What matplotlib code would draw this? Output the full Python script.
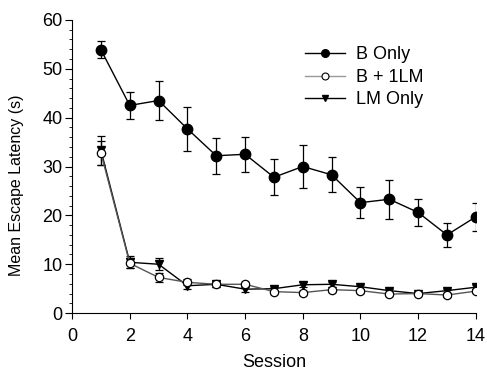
import numpy as np
import matplotlib
matplotlib.use("Agg")
import matplotlib.pyplot as plt
from matplotlib.ticker import MultipleLocator
from matplotlib.lines import Line2D

plt.rcParams['font.family'] = ['Liberation Sans', 'DejaVu Sans']

session = np.arange(1, 15)

# B Only
b_only = [53.9, 42.5, 43.5, 37.7, 32.2, 32.5, 27.8, 30.0, 28.3, 22.6, 23.3, 20.6, 16.0, 19.7]
b_only_err = [1.8, 2.8, 4.0, 4.5, 3.7, 3.6, 3.7, 4.5, 3.6, 3.2, 4.0, 2.8, 2.5, 2.9]

# B + 1LM
b_1lm = [32.8, 10.2, 7.3, 6.3, 5.9, 5.9, 4.4, 4.2, 4.8, 4.6, 3.9, 4.0, 3.7, 4.5]
b_1lm_err = [2.4, 1.0, 0.9, 0.6, 0.5, 0.5, 0.4, 0.4, 0.5, 0.4, 0.4, 0.3, 0.4, 0.4]

# LM Only
lm_only = [33.3, 10.4, 10.0, 5.6, 5.9, 4.9, 5.0, 5.8, 5.9, 5.4, 4.6, 4.0, 4.6, 5.3]
lm_only_err = [3.0, 1.2, 1.2, 0.6, 0.5, 0.6, 0.4, 0.5, 0.5, 0.4, 0.4, 0.3, 0.4, 0.4]

fig = plt.figure(figsize=(4.87, 3.75), dpi=100)
ax = fig.add_axes([0.148, 0.165, 0.829, 0.782])

ax.errorbar(session, lm_only, yerr=lm_only_err, color='black', lw=1.0,
            marker='v', ms=6, mfc='black', mec='black', capsize=3,
            elinewidth=0.9, capthick=0.9, zorder=3)
ax.errorbar(session, b_1lm, yerr=b_1lm_err, color='#555555', lw=1.0,
            marker='o', ms=6, mfc='white', mec='black', mew=0.9, capsize=3,
            ecolor='black', elinewidth=0.9, capthick=0.9, zorder=4)
ax.errorbar(session, b_only, yerr=b_only_err, color='black', lw=1.0,
            marker='o', ms=7.5, mfc='black', mec='black', capsize=3,
            elinewidth=0.9, capthick=0.9, zorder=5)

ax.set_xlim(0, 14)
ax.set_ylim(0, 60)
ax.xaxis.set_major_locator(MultipleLocator(2))
ax.yaxis.set_major_locator(MultipleLocator(10))
ax.yaxis.set_minor_locator(MultipleLocator(2))
ax.spines['top'].set_visible(False)
ax.spines['right'].set_visible(False)
ax.spines['left'].set_linewidth(0.8)
ax.spines['bottom'].set_linewidth(0.8)
ax.tick_params(axis='x', which='major', direction='out', length=4, pad=7, labelsize=13)
ax.tick_params(axis='y', which='major', direction='out', length=5, pad=2, labelsize=13)
ax.tick_params(axis='y', which='minor', direction='out', length=2.5)

ax.set_xlabel('Session', fontsize=13, labelpad=6)
ax.set_ylabel('Mean Escape Latency (s)', fontsize=11.5)
ax.yaxis.set_label_coords(-0.118, 0.437)

handles = [
    Line2D([], [], color='black', lw=1.0, marker='o', ms=5.5, mfc='black', mec='black'),
    Line2D([], [], color='#999999', lw=1.0, marker='o', ms=5, mfc='white', mec='black', mew=0.8),
    Line2D([], [], color='black', lw=1.0, marker='v', ms=5, mfc='black', mec='black'),
]
labels = ['B Only', 'B + 1LM', 'LM Only']
ax.legend(handles, labels, loc='upper left', bbox_to_anchor=(0.555, 0.94),
          frameon=False, fontsize=13, handlelength=2.2, handletextpad=0.6,
          labelspacing=0.3, borderpad=0)

fig.savefig('out.png', dpi=100)
